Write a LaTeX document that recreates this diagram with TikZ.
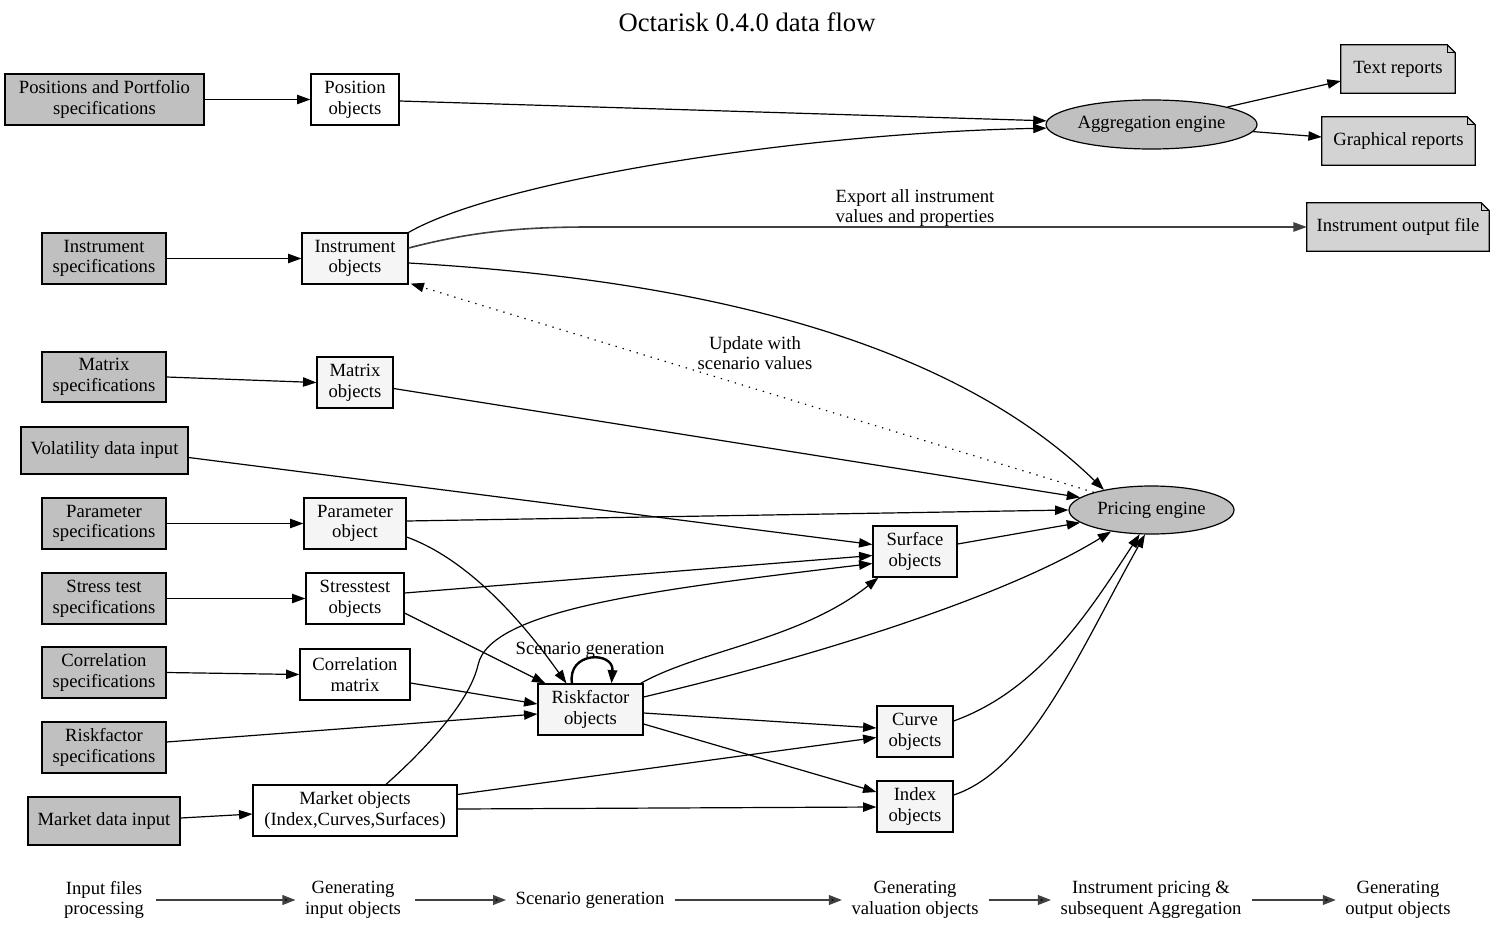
\documentclass[tikz,border=0pt]{standalone}
\usepackage{fontspec}
\setmainfont{Liberation Serif}
\usetikzlibrary{arrows.meta,shapes.geometric,calc,backgrounds}
\definecolor{specgray}{HTML}{C0C0C0}
\definecolor{smoke}{HTML}{F5F5F5}
\definecolor{notegray}{HTML}{D3D3D3}
\definecolor{legendgray}{HTML}{404040}
\newcommand\drawnotefill[1]{%
  \fill[notegray] (#1.north west) -- ($(#1.north east)+(-8,0)$) -- ($(#1.north east)+(0,8)$) -- (#1.south east) -- (#1.south west) -- cycle;}
\newcommand\drawnoteline[1]{%
  \draw[line width=0.9pt] (#1.north west) -- ($(#1.north east)+(-8,0)$) -- ($(#1.north east)+(0,8)$) -- (#1.south east) -- (#1.south west) -- cycle;
  \draw[line width=0.9pt] ($(#1.north east)+(-8,0)$) -- ($(#1.north east)+(-8,8)$) -- ($(#1.north east)+(0,8)$);}
\begin{document}
\begin{tikzpicture}[x=0.75pt,y=-0.75pt,
  font=\fontsize{14}{15.5}\selectfont,
  sz/.style 2 args={minimum width=#1*0.75pt, minimum height=#2*0.75pt},
  base/.style={draw=black, line width=0.9pt, rectangle, inner sep=0pt, align=center},
  spec/.style={base, fill=specgray},
  obj/.style={base, fill=white},
  sobj/.style={base, fill=smoke},
  eng/.style={draw=black, line width=0.9pt, ellipse, fill=specgray, inner sep=0pt},
  notebox/.style={rectangle, inner sep=0pt, align=center},
  lbl/.style={align=center, inner sep=0pt},
  legend/.style={align=center, inner sep=0pt},
  edge/.style={line width=0.9pt, -{Triangle[length=10pt,width=7pt]}},
  expedge/.style={edge, draw=black!75, line width=1.2pt},
  dotedge/.style={line width=0.9pt, dash pattern=on 1pt off 4.5pt, -{Triangle[length=10pt,width=7pt]}},
  loopedge/.style={line width=1.8pt, -{Triangle[length=10pt,width=7pt]}},
  legedge/.style={line width=2pt, draw=legendgray, -{Triangle[length=10pt,width=7pt,fill=black]}}
]
\useasboundingbox (0,0) rectangle (1495,931);
\begin{pgfonlayer}{background}
\fill[white] (0,0) rectangle (1495,931);
\end{pgfonlayer}

% title
\node[lbl, font=\fontsize{20}{24}\selectfont] (title) at (747,22) {Octarisk 0.4.0 data flow};

% input specifications
\node[spec, sz={199}{51}] (posspec) at (104.5,99.5) {Positions and Portfolio\\specifications};
\node[spec, sz={124}{51}] (instrspec) at (104,258.5) {Instrument\\specifications};
\node[spec, sz={124}{50}] (matspec) at (104,377) {Matrix\\specifications};
\node[spec, sz={167}{47}] (volspec) at (104.5,450.5) {Volatility data input};
\node[spec, sz={124}{51}] (parspec) at (104,523.5) {Parameter\\specifications};
\node[spec, sz={124}{51}] (strspec) at (104,598.5) {Stress test\\specifications};
\node[spec, sz={124}{51}] (corspec) at (104,672.5) {Correlation\\specifications};
\node[spec, sz={124}{51}] (rfspec) at (104,747.5) {Riskfactor\\specifications};
\node[spec, sz={152}{48}] (mktspec) at (104,821) {Market data input};

% input objects
\node[obj, sz={88}{51}] (posobj) at (355,99.5) {Position\\objects};
\node[sobj, sz={106}{51}] (instrobj) at (355,258.5) {Instrument\\objects};
\node[sobj, sz={76}{51}] (matobj) at (355,382.5) {Matrix\\objects};
\node[sobj, sz={102}{51}] (parobj) at (355,523.5) {Parameter\\object};
\node[obj, sz={98}{51}] (strobj) at (355,598.5) {Stresstest\\objects};
\node[obj, sz={110}{51}] (corobj) at (355,674.5) {Correlation\\matrix};
\node[obj, sz={204}{51}] (mktobj) at (355,810.5) {Market objects\\(Index,Curves,Surfaces)};

% scenario / valuation objects
\node[sobj, sz={105}{51}] (rfobj) at (590.5,709.5) {Riskfactor\\objects};
\node[sobj, sz={84}{51}] (surf) at (915,551.5) {Surface\\objects};
\node[sobj, sz={76}{51}] (curve) at (915,731.5) {Curve\\objects};
\node[sobj, sz={76}{51}] (index) at (915,806.5) {Index\\objects};

% engines
\node[eng, sz={165}{48}] (pricing) at (1151.5,510) {Pricing engine};
\node[eng, sz={211}{49}] (agg) at (1151.5,124.5) {Aggregation engine};

% output notes
\node[notebox, sz={114}{48}] (textrep) at (1398,69) {Text reports};
\node[notebox, sz={153}{48}] (graphrep) at (1398.5,141) {Graphical reports};
\node[notebox, sz={182}{48}] (instrout) at (1398,227) {Instrument output file};
\begin{pgfonlayer}{background}
\drawnotefill{textrep}
\drawnotefill{graphrep}
\drawnotefill{instrout}
\end{pgfonlayer}
\drawnoteline{textrep}
\drawnoteline{graphrep}
\drawnoteline{instrout}

% edge labels
\node[lbl] (explbl) at (915,208) {Export all instrument\\values and properties};
\node[lbl] (updlbl) at (755,353) {Update with\\scenario values};
\node[lbl] (scenlbl) at (590,650) {Scenario generation};

% edges: positions
\draw[edge] (posspec.east) -- (posobj.west);
\draw[edge] ($(posobj.east)+(0,1.5)$) -- (agg.178);

% instruments
\draw[edge] (instrspec.east) -- (instrobj.west);
\draw[edge] (instrobj.north east) .. controls (500,180) and (800,133) .. (agg.-178);
\draw[expedge] ($(instrobj.east)+(0,-10.5)$) .. controls (470,232) and (520,227) .. (590,227) -- (instrout.west);
\draw[edge] ($(instrobj.east)+(0,4.5)$) .. controls (700,280) and (950,340) .. (pricing.157);
\draw[dotedge] (pricing.163) -- ($(instrobj.south east)+(2,-1)$);

% matrix, volatility, parameter
\draw[edge] (matspec.east) -- (matobj.west);
\draw[edge] ($(matobj.east)+(0,6)$) -- (pricing.170);
\draw[edge] ($(volspec.east)+(0,7)$) -- ($(surf.west)+(0,-7)$);
\draw[edge] (parspec.east) -- (parobj.west);
\draw[edge] ($(parobj.east)+(0,-2.5)$) -- (pricing.west);
\draw[edge] ($(parobj.east)+(0,13.5)$) .. controls (470,560) and (525,625) .. ($(rfobj.north west)+(29,0)$);

% stress test, correlation, riskfactor spec, market
\draw[edge] (strspec.east) -- (strobj.west);
\draw[edge] ($(strobj.east)+(0,-5.5)$) -- ($(surf.west)+(0,4)$);
\draw[edge] ($(strobj.east)+(0,14.5)$) -- ($(rfobj.north west)+(8,0)$);
\draw[edge] (corspec.east) -- (corobj.west);
\draw[edge] ($(corobj.east)+(0,8.5)$) -- ($(rfobj.west)+(0,-5.5)$);
\draw[edge] ($(rfspec.east)+(0,-5.5)$) -- ($(rfobj.west)+(0,4.5)$);
\draw[edge] ($(mktspec.east)+(0,-3)$) -- ($(mktobj.west)+(0,3.5)$);
\draw[edge] ($(mktobj.north)+(31,0)$) .. controls (430,745) and (470,700) .. (478,665)
   .. controls (490,610) and (650,590) .. ($(surf.west)+(0,12)$);
\draw[edge] ($(mktobj.east)+(0,-16)$) -- ($(curve.west)+(0,6)$);
\draw[edge] ($(mktobj.east)+(0,-1.5)$) -- ($(index.west)+(0,0.5)$);

% riskfactor objects
\draw[loopedge] ($(rfobj.north)+(-18.5,0)$) .. controls (567,651) and (614,651) .. ($(rfobj.north)+(21,0)$);
\draw[edge] ($(rfobj.north east)+(-3,0)$) .. controls (700,650) and (800,640) .. ($(surf.south west)+(6,0)$);
\draw[edge] ($(rfobj.east)+(0,-12.5)$) .. controls (800,660) and (1000,600) .. (pricing.208);
\draw[edge] ($(rfobj.east)+(0,3.5)$) -- ($(curve.west)+(0,-3.5)$);
\draw[edge] ($(rfobj.east)+(0,14.5)$) -- ($(index.west)+(0,-14.5)$);

% valuation objects to pricing
\draw[edge] ($(surf.east)+(0,-7.5)$) -- (pricing.190);
\draw[edge] ($(curve.east)+(0,-10.5)$) .. controls (1040,690) and (1090,610) .. (pricing.244);
\draw[edge] ($(index.east)+(0,-11.5)$) .. controls (1030,770) and (1080,650) .. (pricing.255);

% aggregation outputs
\draw[edge] (agg.13) -- ($(textrep.west)+(0,12)$);
\draw[edge] (agg.-4) -- ($(graphrep.west)+(0,-4)$);

% legend
\node[legend] (l1) at (104,900) {Input files\\processing};
\node[legend] (l2) at (353,900) {Generating\\input objects};
\node[legend] (l3) at (590,900) {Scenario generation};
\node[legend] (l4) at (915,900) {Generating\\valuation objects};
\node[legend] (l5) at (1151,900) {Instrument pricing \&\\subsequent Aggregation};
\node[legend] (l6) at (1398,900) {Generating\\output objects};
\draw[legedge] ($(l1.east)+(12,0)$) -- ($(l2.west)+(-9,0)$);
\draw[legedge] ($(l2.east)+(14,0)$) -- ($(l3.west)+(-9,0)$);
\draw[legedge] ($(l3.east)+(10,0)$) -- ($(l4.west)+(-9,0)$);
\draw[legedge] ($(l4.east)+(10,0)$) -- ($(l5.west)+(-9,0)$);
\draw[legedge] ($(l5.east)+(10,0)$) -- ($(l6.west)+(-9,0)$);
\end{tikzpicture}
\end{document}
